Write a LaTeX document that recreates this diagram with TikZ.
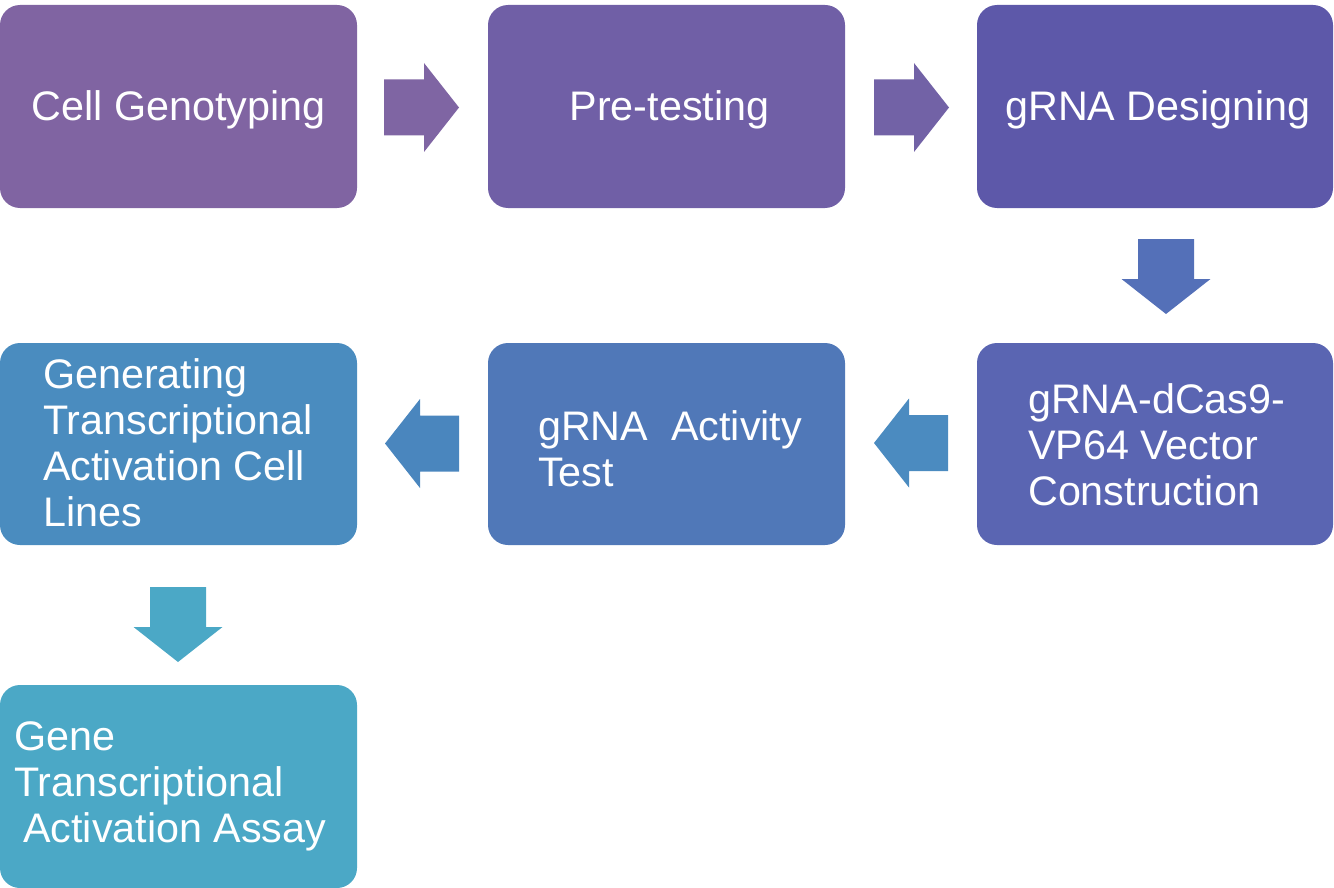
\documentclass[tikz,border=0pt]{standalone}
\usepackage{fontspec}
\setmainfont{Liberation Sans}
\definecolor{cA}{HTML}{8064A2}
\definecolor{cB}{HTML}{705FA6}
\definecolor{cC}{HTML}{5D58A9}
\definecolor{cD}{HTML}{5A65B2}
\definecolor{cE}{HTML}{5078B8}
\definecolor{cF}{HTML}{4A8CBF}
\definecolor{cG}{HTML}{4BA8C6}
\definecolor{aA}{HTML}{7F65A3}
\definecolor{aB}{HTML}{7262A6}
\definecolor{aC}{HTML}{5470B8}
\definecolor{aD}{HTML}{4B8BC0}
\definecolor{aE}{HTML}{4A86BE}
\definecolor{aF}{HTML}{4BA8C6}
\tikzset{
  box/.style={rounded corners=20pt, minimum width=357pt, minimum height=203pt, inner sep=0pt, text=white, text height=29pt, text depth=0pt, font=\fontsize{41.3}{46}\selectfont},
  lbl/.style={anchor=north west, inner sep=0pt, align=left, text=white, font=\fontsize{41.3}{46}\selectfont},
}
% right arrow: x0, yc
\newcommand{\myrarrow}[3]{\fill[#3] (#1,#2-28) -- (#1+40,#2-28) -- (#1+40,#2-44.5) -- (#1+75,#2) -- (#1+40,#2+44.5) -- (#1+40,#2+28) -- (#1,#2+28) -- cycle;}
% left arrow: x tip, yc
\newcommand{\mylarrow}[3]{\fill[#3] (#1,#2) -- (#1+35,#2-44.5) -- (#1+35,#2-28) -- (#1+74,#2-28) -- (#1+74,#2+28) -- (#1+35,#2+28) -- (#1+35,#2+44.5) -- cycle;}
% down arrow: xc, ytop
\newcommand{\mydarrow}[3]{\fill[#3] (#1-28,#2) -- (#1+28,#2) -- (#1+28,#2+40) -- (#1+44.5,#2+40) -- (#1,#2+75) -- (#1-44.5,#2+40) -- (#1-28,#2+40) -- cycle;}
\begin{document}
\begin{tikzpicture}[x=1pt,y=-1pt]
\useasboundingbox (0,0) rectangle (1334,888);
% boxes
\node[box, fill=cA] (b1) at (178.5,106.5) {Cell Genotyping};
\node[box, fill=cB] (b2) at (666.5,106.5) {\hspace*{6pt}Pre-testing};
\node[box, fill=cC, minimum width=356pt] (b3) at (1155,106.5) {\hspace*{6pt}gRNA Designing};
\node[box, fill=cD, minimum width=356pt, minimum height=202pt] (b4) at (1155,444) {};
\node[box, fill=cE, minimum height=202pt] (b5) at (666.5,444) {};
\node[box, fill=cF, minimum height=202pt] (b6) at (178.5,444) {};
\node[box, fill=cG] (b7) at (178.5,786.5) {};
% texts
\node[lbl] (t4) at (1028,381) {\strut gRNA-dCas9-\\\strut VP64 Vector\\\strut Construction};
\node[lbl] (t5) at (538,408) {\strut gRNA\ \ Activity\\\strut Test};
\node[lbl] (t6) at (43,356) {\strut Generating\\\strut Transcriptional\\\strut Activation Cell\\\strut Lines};
\node[lbl] (t7) at (14,718) {\strut Gene\\\strut Transcriptional\\\strut\hspace*{9pt}Activation Assay};
% arrows
\myrarrow{384}{107.5}{aA}
\myrarrow{874}{107.5}{aB}
\mydarrow{1166}{239}{aC}
\mylarrow{874}{443}{aD}
\mylarrow{385}{443.5}{aE}
\mydarrow{178}{587}{aF}
\end{tikzpicture}
\end{document}
